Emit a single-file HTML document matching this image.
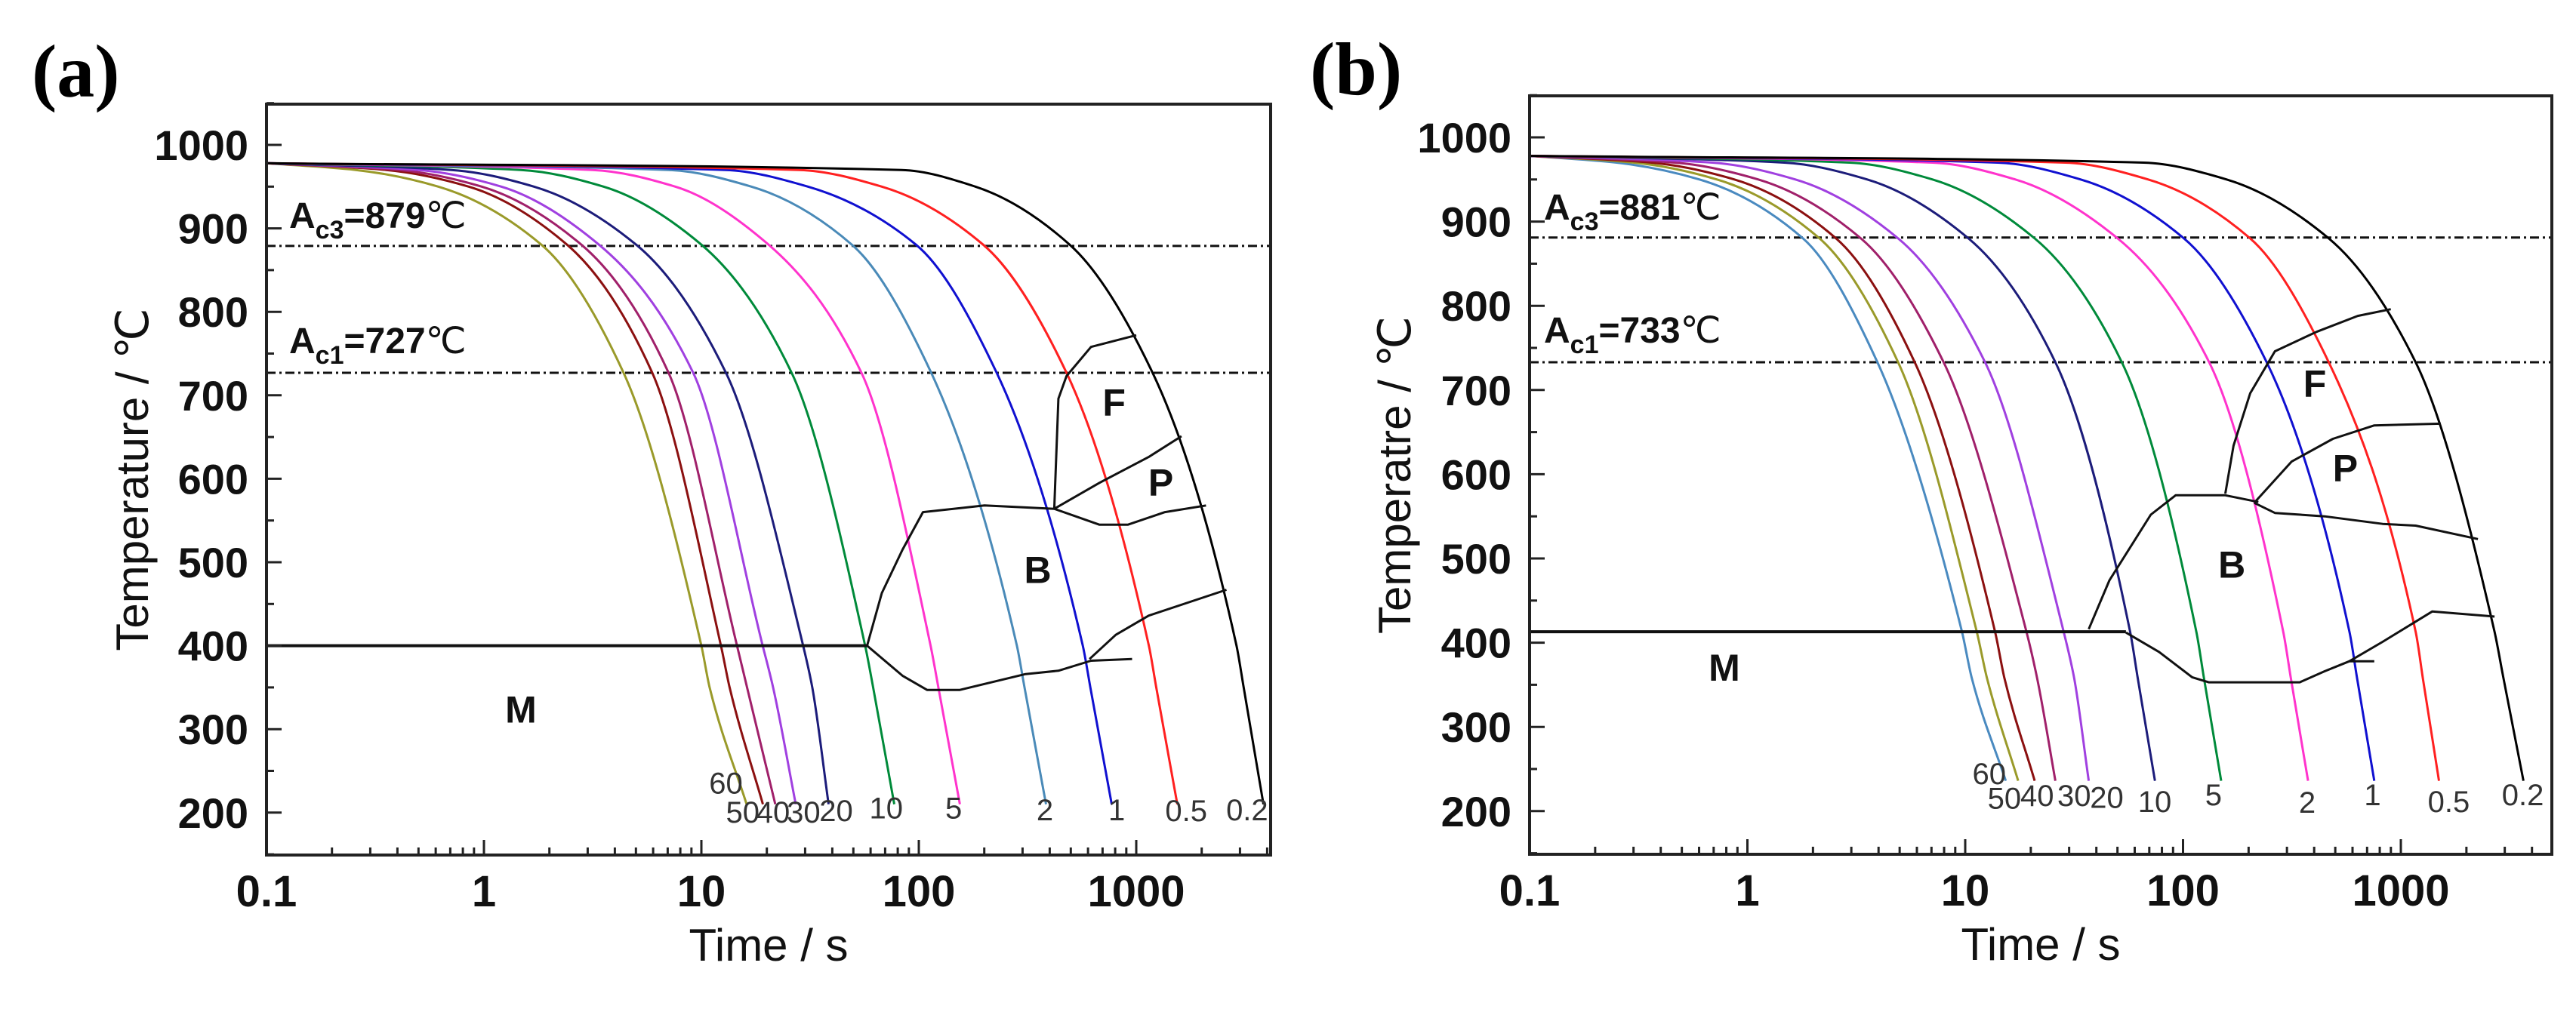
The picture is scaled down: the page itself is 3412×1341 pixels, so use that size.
<!DOCTYPE html>
<html><head><meta charset="utf-8"><style>
html,body{margin:0;padding:0;background:#fff;}
svg{display:block;}
text{font-family:"Liberation Sans",sans-serif;}
</style></head><body>
<svg id="chart" width="3412" height="1341" viewBox="0 0 3412 1341" xmlns="http://www.w3.org/2000/svg"></svg>
<script>
// ---------- Panel (a) data ----------
const aRates = ["60","50","40","30","20","10","5","2","1","0.5","0.2"];
const aColors = ["#9a9a2a","#8b1010","#a0206a","#a040e0","#1c1c7a","#008a3a","#ff33cc","#4a8ab8","#1010d0","#ff2020","#000000"];
const aTemps = [978, 970, 950, 880, 727, 400, 350, 210];
const aLogT = [
 [-1,-0.59,-0.21,0.266,0.642,1.0,1.038,1.208],
 [-1,-0.45,-0.07,0.384,0.774,1.09,1.13,1.283],
 [-1,-0.39,-0.01,0.45,0.849,1.164,1.21,1.34],
 [-1,-0.30,0.08,0.531,0.962,1.282,1.33,1.434],
 [-1,-0.15,0.23,0.702,1.113,1.468,1.51,1.585],
 [-1,0.17,0.55,1.002,1.415,1.753,1.79,1.887],
 [-1,0.50,0.88,1.311,1.736,2.054,2.09,2.189],
 [-1,0.85,1.23,1.694,2.057,2.451,2.486,2.585],
 [-1,1.11,1.49,1.989,2.358,2.754,2.789,2.887],
 [-1,1.45,1.83,2.298,2.679,3.058,3.092,3.189],
 [-1,1.92,2.26,2.696,3.075,3.461,3.494,3.585]
];
const aLabelPos = [[1.113,223],[1.19,188],[1.33,188],[1.47,188],[1.62,190],[1.85,193],[2.16,193],[2.58,191],[2.91,191],[3.23,190],[3.51,191]];
const aMline = [[-1,400],[1.762,400]];
const aBs = [[1.762,400],[1.83,463],[1.925,515],[2.019,560],[2.302,568],[2.623,564]];
const aMs = [[1.762,400],[1.925,364],[2.038,347],[2.189,347],[2.491,366],[2.642,370],[2.792,382],[2.981,384]];
const aFs = [[2.623,564],[2.642,696],[2.679,723],[2.792,758],[3.0,772]];
const aPs = [[2.623,564],[2.83,595],[3.057,626],[3.208,651]];
const aPf = [[2.623,564],[2.83,545],[2.962,545],[3.132,560],[3.321,568]];
const aLow = [[2.785,384],[2.906,413],[3.057,436],[3.415,467]];
const aCrit = [879, 727];
const aPhase = [["F",2.898,676],["P",3.113,580],["B",2.547,475],["M",0.17,308]];

// ---------- Panel (b) data ----------
const bRates = ["60","50","40","30","20","10","5","2","1","0.5","0.2"];
const bColors = ["#4a8ac0","#9a9a2a","#8b1010","#a0206a","#a040e0","#1c1c7a","#008a3a","#ff33cc","#1010d0","#ff2020","#000000"];
const bTemps = [978, 970, 950, 880, 733, 413, 358, 236];
const bLogT = [
 [-1,-0.60,-0.22,0.255,0.597,0.985,1.03,1.186],
 [-1,-0.52,-0.14,0.331,0.692,1.053,1.10,1.243],
 [-1,-0.44,-0.06,0.407,0.768,1.137,1.18,1.319],
 [-1,-0.33,0.05,0.521,0.901,1.281,1.33,1.414],
 [-1,-0.16,0.22,0.692,1.091,1.452,1.50,1.567],
 [-1,0.17,0.55,1.015,1.414,1.757,1.792,1.871],
 [-1,0.47,0.85,1.319,1.719,2.061,2.096,2.175],
 [-1,0.85,1.23,1.700,2.120,2.46,2.495,2.574],
 [-1,1.15,1.53,2.004,2.384,2.764,2.799,2.878],
 [-1,1.46,1.84,2.308,2.669,3.068,3.101,3.175],
 [-1,1.82,2.20,2.669,3.068,3.43,3.471,3.563]
];
const bLabelPos = [[1.11,232],[1.18,203],[1.33,206],[1.50,206],[1.65,204],[1.87,199],[2.14,207],[2.57,198],[2.87,207],[3.22,199],[3.56,207]];
const bMline = [[-1,413],[1.738,413]];
const bBs = [[1.567,416],[1.662,474],[1.852,552],[1.966,575],[2.194,575],[2.346,567]];
const bMs = [[1.738,412],[1.89,389],[2.042,359],[2.118,353],[2.536,353],[2.65,366],[2.764,378],[2.878,378]];
const bFs = [[2.194,577],[2.232,634],[2.308,696],[2.422,746],[2.612,769],[2.802,788],[2.954,796]];
const bPs = [[2.327,566],[2.498,615],[2.688,642],[2.878,658],[3.183,660]];
const bPf = [[2.327,566],[2.422,554],[2.65,550],[2.916,541],[3.068,539],[3.354,523]];
const bLow = [[2.764,378],[2.916,401],[3.144,437],[3.43,431]];
const bCrit = [881, 733];
const bPhase = [["F",2.605,692],["P",2.745,592],["B",2.224,477],["M",-0.106,355]];

const yTicks = [200,300,400,500,600,700,800,900,1000];
const xTicks = ["0.1","1","10","100","1000"];

const NS = "http://www.w3.org/2000/svg";
const svg = document.getElementById("chart");
function mk(tag, attrs, parent){
  const e = document.createElementNS(NS, tag);
  for (const k in attrs) e.setAttribute(k, attrs[k]);
  (parent||svg).appendChild(e);
  return e;
}
// monotone cubic (Fritsch-Carlson), y as function of x (x strictly increasing)
function monoPath(pts){
  const n = pts.length;
  if (n < 3) return "M" + pts.map(p=>p[0].toFixed(1)+","+p[1].toFixed(1)).join(" L");
  const dx = [], m = [];
  for (let i=0;i<n-1;i++){ dx[i] = pts[i+1][0]-pts[i][0]; m[i] = (pts[i+1][1]-pts[i][1])/dx[i]; }
  const t = [m[0]];
  for (let i=1;i<n-1;i++){
    if (m[i-1]*m[i] <= 0) t[i] = 0;
    else { const w1 = 2*dx[i]+dx[i-1], w2 = dx[i]+2*dx[i-1]; t[i] = (w1+w2)/(w1/m[i-1]+w2/m[i]); }
  }
  t[n-1] = m[n-2];
  let d = "M" + pts[0][0].toFixed(1) + "," + pts[0][1].toFixed(1);
  for (let i=0;i<n-1;i++){
    const h = dx[i]/3;
    d += " C"+(pts[i][0]+h).toFixed(1)+","+(pts[i][1]+t[i]*h).toFixed(1)+" "+(pts[i+1][0]-h).toFixed(1)+","+(pts[i+1][1]-t[i+1]*h).toFixed(1)+" "+pts[i+1][0].toFixed(1)+","+pts[i+1][1].toFixed(1);
  }
  return d;
}
function linePath(pts){
  return "M" + pts.map(p=>p[0].toFixed(1)+","+p[1].toFixed(1)).join(" L");
}

function panel(cfg){
  const g = mk("g", {});
  
  
  const X = L => cfg.x0 + (L+1)*cfg.dec;
  const Y = T => cfg.y1000 + (1000-T)*cfg.ppd;
  const left = cfg.x0, right = cfg.right, top = cfg.top, bottom = cfg.bottom;

  const pl = mk("text", {x:cfg.letterX, y:cfg.letterY, "font-size":100, "font-weight":"bold", style:'font-family:"Liberation Serif",serif'}, g);
  pl.textContent = cfg.letter;
  
  

  cfg.crit.forEach((c,i)=>{
    const ln = mk("line", {x1:left, x2:right, y1:Y(c), y2:Y(c), stroke:"#111", "stroke-width":3, "stroke-dasharray":"12 5 3 5"}, g);
    
    
    const t = mk("text", {x:cfg.critX, y:Y(c)-cfg.critDy[i], "font-size":48, "font-weight":"bold", fill:"#111"}, g);
    
    
    t.innerHTML = 'A<tspan font-size="34" dy="14">' + (i===0?'c3':'c1') + '</tspan><tspan dy="-14">=' + c + '</tspan><tspan font-weight="normal">℃</tspan>';
  });

  cfg.rates.forEach((r,i)=>{
    const pts = cfg.temps.map((T,j)=>[X(cfg.logT[i][j]), Y(T)]);
    const p = mk("path", {d:monoPath(pts), fill:"none", stroke:cfg.colors[i], "stroke-width":3}, g);
    
    
    const lp = cfg.labelPos[i];
    const t = mk("text", {x:X(lp[0]), y:Y(lp[1]), "font-size":40, "text-anchor":"middle", fill:"#333"}, g);
    t.textContent = r;
    
    
  });

  const bnames = ["ms-line","bs-boundary","ms-boundary","ferrite-start","pearlite-start","pearlite-finish","bainite-finish"];
  cfg.bounds.forEach((b,i)=>{
    const pts = b.map(q=>[X(q[0]), Y(q[1])]);
    const p = mk("path", {d:linePath(pts), fill:"none", stroke:"#111", "stroke-width": i===0?4:3, "stroke-linejoin":"round"}, g);
    
    
  });

  cfg.phase.forEach(ph=>{
    const t = mk("text", {x:X(ph[1]), y:Y(ph[2]), "font-size":50, "font-weight":"bold", "text-anchor":"middle", fill:"#111"}, g);
    t.textContent = ph[0];
    
    
  });

  const fr = mk("rect", {x:left, y:top, width:right-left, height:bottom-top, fill:"none", stroke:"#222", "stroke-width":4}, g);
  
  

  yTicks.forEach(v=>{
    const tk = mk("line", {x1:left, x2:left+20, y1:Y(v), y2:Y(v), stroke:"#222", "stroke-width":3}, g);
    
    
    const m = mk("line", {x1:left, x2:left+10, y1:Y(v+50), y2:Y(v+50), stroke:"#222", "stroke-width":3}, g);
    
    
    const t = mk("text", {x:left-24, y:Y(v)+20, "font-size":56, "font-weight":"bold", "text-anchor":"end", fill:"#111"}, g);
    t.textContent = v;
    
    
  });
  const m0 = mk("line", {x1:left, x2:left+10, y1:Y(150), y2:Y(150), stroke:"#222", "stroke-width":3}, g);
  
  

  xTicks.forEach((lab,i)=>{
    const L = i-1;
    const tk = mk("line", {x1:X(L), x2:X(L), y1:bottom, y2:bottom-20, stroke:"#222", "stroke-width":3}, g);
    
    
    const t = mk("text", {x:X(L), y:bottom+68, "font-size":58, "font-weight":"bold", "text-anchor":"middle", fill:"#111"}, g);
    t.textContent = lab;
    
    
    for (let k=2;k<=9;k++){
      const xm = X(L+Math.log10(k));
      if (xm >= right-2) continue;
      const m = mk("line", {x1:xm, x2:xm, y1:bottom, y2:bottom-10, stroke:"#222", "stroke-width":3}, g);
      
      
    }
  });

  const xt = mk("text", {x:(left+right)/2, y:bottom+140, "font-size":60, "text-anchor":"middle", fill:"#111"}, g);
  xt.textContent = "Time / s";
  
  
  const cy = (top+bottom)/2;
  const yt = mk("text", {x:cfg.yTitleX, y:cy, "font-size":60, "text-anchor":"middle", fill:"#111", transform:"rotate(-90 "+cfg.yTitleX+" "+cy+")"}, g);
  yt.textContent = cfg.yTitle;
  
  
}

panel({name:"panel-a", letter:"(a)", letterX:42, letterY:128,
  x0:353, dec:288, y1000:192, ppd:1.106, right:1683, top:138, bottom:1133,
  rates:aRates, colors:aColors, temps:aTemps, logT:aLogT, labelPos:aLabelPos,
  bounds:[aMline,aBs,aMs,aFs,aPs,aPf,aLow], crit:aCrit, critX:383, critDy:[24,26],
  phase:aPhase, yTitle:"Temperature / ℃", yTitleX:196});
panel({name:"panel-b", letter:"(b)", letterX:1735, letterY:125,
  x0:2026, dec:288.5, y1000:182, ppd:1.116, right:3380, top:127, bottom:1132,
  rates:bRates, colors:bColors, temps:bTemps, logT:bLogT, labelPos:bLabelPos,
  bounds:[bMline,bBs,bMs,bFs,bPs,bPf,bLow], crit:bCrit, critX:2045, critDy:[24,26],
  phase:bPhase, yTitle:"Temperatre / ℃", yTitleX:1868});
</script>
</body></html>
